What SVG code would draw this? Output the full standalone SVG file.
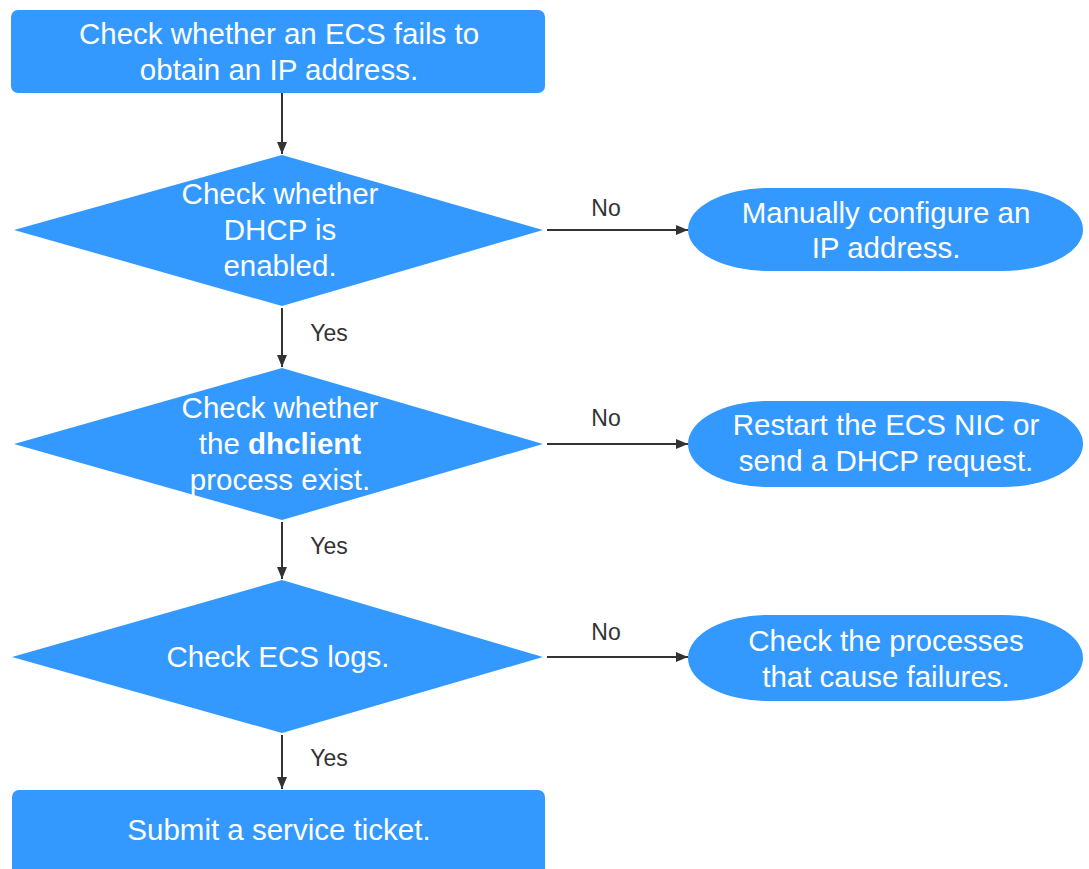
<svg xmlns="http://www.w3.org/2000/svg" width="1089" height="869" viewBox="0 0 1089 869">
<defs>
<style>
.n{fill:#3399ff;}
.t{font-family:"Liberation Sans",Arial,sans-serif;font-size:29.5px;fill:#ffffff;text-anchor:middle;}
.l{font-family:"Liberation Sans",Arial,sans-serif;font-size:23px;fill:#333333;text-anchor:middle;}
.c{stroke:#333333;stroke-width:2;fill:none;marker-end:url(#ah);}
</style>
<marker id="ah" viewBox="0 0 12 12" refX="12" refY="6" markerWidth="12" markerHeight="12" markerUnits="userSpaceOnUse" orient="auto">
<path d="M0,1 L12,6 L0,11 Z" fill="#333333"/>
</marker>
</defs>
<rect width="1089" height="869" fill="#ffffff"/>
<g id="connectors">
<line class="c" x1="282" y1="93" x2="282" y2="154"/>
<line class="c" x1="282" y1="308" x2="282" y2="367"/>
<line class="c" x1="282" y1="522" x2="282" y2="579"/>
<line class="c" x1="282" y1="735" x2="282" y2="789"/>
<line class="c" x1="547" y1="230" x2="688" y2="230"/>
<line class="c" x1="547" y1="444" x2="688" y2="444"/>
<line class="c" x1="547" y1="657" x2="688" y2="657"/>
<text class="l" x="606" y="216">No</text>
<text class="l" x="606" y="426">No</text>
<text class="l" x="606" y="640">No</text>
<text class="l" x="329" y="341">Yes</text>
<text class="l" x="329" y="554">Yes</text>
<text class="l" x="329" y="766">Yes</text>
</g>
<g id="start">
<rect class="n" x="11" y="10" width="534" height="83" rx="7"/>
<text class="t" x="279" y="44">Check whether an ECS fails to</text>
<text class="t" x="279" y="80">obtain an IP address.</text>
</g>
<g id="dhcp">
<polygon class="n" points="282,155 543,230 282,306 14,230"/>
<text class="t" x="280" y="204">Check whether</text>
<text class="t" x="280" y="240">DHCP is</text>
<text class="t" x="280" y="276">enabled.</text>
</g>
<g id="manual">
<rect class="n" x="688" y="188" width="395" height="83" rx="80" ry="41.5"/>
<text class="t" x="886" y="223">Manually configure an</text>
<text class="t" x="886" y="258">IP address.</text>
</g>
<g id="dhclient">
<polygon class="n" points="282,368 543,444 282,520 14,444"/>
<text class="t" x="280" y="418">Check whether</text>
<text class="t" x="280" y="454">the <tspan font-weight="bold">dhclient</tspan></text>
<text class="t" x="280" y="490">process exist.</text>
</g>
<g id="restart">
<rect class="n" x="688" y="401" width="395" height="86" rx="80" ry="43"/>
<text class="t" x="886" y="435">Restart the ECS NIC or</text>
<text class="t" x="886" y="471">send a DHCP request.</text>
</g>
<g id="logs">
<polygon class="n" points="282,580 543,657 282,733 12,657"/>
<text class="t" x="278" y="667">Check ECS logs.</text>
</g>
<g id="processes">
<rect class="n" x="688" y="615" width="395" height="86" rx="80" ry="43"/>
<text class="t" x="886" y="651">Check the processes</text>
<text class="t" x="886" y="687">that cause failures.</text>
</g>
<g id="ticket">
<rect class="n" x="12" y="790" width="533" height="90" rx="7"/>
<text class="t" x="279" y="840">Submit a service ticket.</text>
</g>
</svg>
